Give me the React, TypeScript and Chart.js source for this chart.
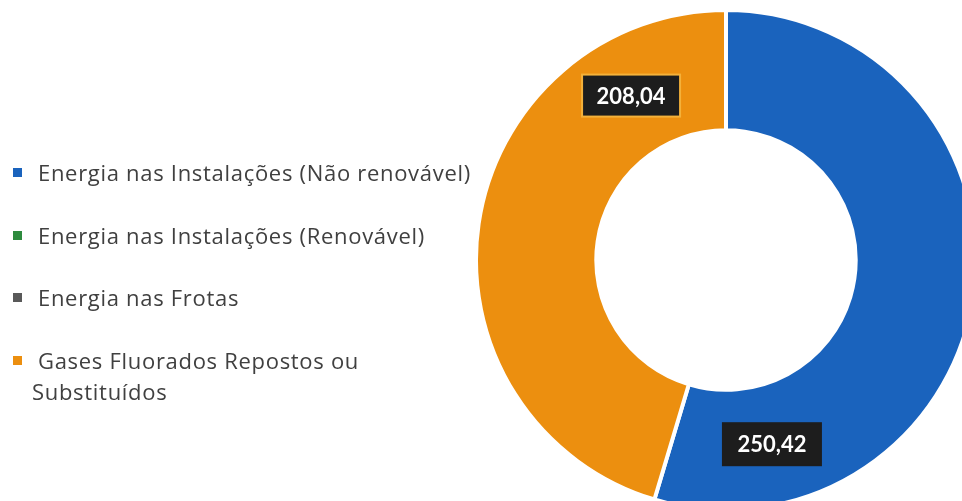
import React, { useEffect, useRef } from "react";
import { Chart, registerables } from "chart.js";

Chart.register(...registerables);

const categories: (string | string[])[] = [
  "Energia nas Instalações (Não renovável)",
  "Energia nas Instalações (Renovável)",
  "Energia nas Frotas",
  ["Gases Fluorados Repostos ou", "Substituídos"],
];
const values = [250.42, 0, 0, 208.04];
const colors = ["#1a63bd", "#2e8b3e", "#595959", "#ec8f0f"];
const valueLabels = ["250,42", "", "", "208,04"];

const labelPlugin = {
  id: "boxLabels",
  afterDatasetsDraw(chart: any, _args: any, opts: any) {
    const ctx = chart.ctx;
    const meta = chart.getDatasetMeta(0);
    meta.data.forEach((arc: any, i: number) => {
      const text = valueLabels[i];
      if (!text || !values[i]) return;
      const ang = ((opts.angles[i] ?? 0) * Math.PI) / 180;
      const r = (arc.innerRadius + arc.outerRadius) / 2;
      const x = arc.x + r * Math.sin(ang);
      const y = arc.y - r * Math.cos(ang);
      ctx.save();
      ctx.font = "bold 22px Lato";
      const w = opts.boxWidth;
      const h = 42;
      ctx.fillStyle = "#1d1d1d";
      ctx.fillRect(x - w / 2, y - h / 2, w, h);
      ctx.lineWidth = 2;
      ctx.strokeStyle = opts.borders[i];
      ctx.strokeRect(x - w / 2, y - h / 2, w, h);
      ctx.fillStyle = "#ffffff";
      ctx.textAlign = "center";
      ctx.textBaseline = "middle";
      ctx.fillText(text, x, y + 1);
      ctx.restore();
    });
  },
};

export default function App() {
  const ref = useRef<HTMLCanvasElement>(null);
  useEffect(() => {
    if (!ref.current) return;
    const chart = new Chart(ref.current, {
      type: "doughnut",
      data: {
        labels: categories as any,
        datasets: [
          {
            data: values,
            backgroundColor: colors,
            borderColor: "#ffffff",
            borderWidth: 4,
            hoverOffset: 0,
            clip: false as any,
          },
        ],
      },
      options: {
        responsive: false,
        animation: false,
        radius: 250,
        cutout: 124,
        layout: { padding: { left: 452, right: 0, top: 19, bottom: 0 } },
        plugins: {
          legend: { display: false },
          tooltip: { enabled: false },
          boxLabels: {
            angles: [166, 0, 0, 330],
            borders: ["#1d1d1d", "", "", "#f4b13a"],
            boxWidth: 98,
          },
        } as any,
      },
      plugins: [labelPlugin],
    });
    return () => chart.destroy();
  }, []);

  return (
    <div
      style={{
        position: "absolute",
        left: 0,
        top: 0,
        width: 962,
        height: 501,
        overflow: "hidden",
        background: "#fff",
      }}
    >
      <canvas
        ref={ref}
        width={1000}
        height={501}
        style={{ position: "absolute", left: 0, top: 0, width: 1000, height: 501 }}
      />
      <div
        style={{
          position: "absolute",
          left: 0,
          top: 157,
          display: "flex",
          flexDirection: "column",
          gap: 31.5,
          fontFamily: "'Open Sans', sans-serif",
          fontSize: 22,
          letterSpacing: 0.7,
          lineHeight: "31px",
          color: "#404040",
        }}
      >
        {categories.map((c, i) => {
          const lines = Array.isArray(c) ? c : [c];
          return (
            <div key={i} style={{ paddingLeft: 32, whiteSpace: "nowrap" }}>
              {lines.map((ln, j) => (
                <div key={j} style={{ position: "relative" }}>
                  {j === 0 ? (
                    <>
                      <span
                        style={{
                          position: "absolute",
                          left: -19,
                          top: 11,
                          width: 9,
                          height: 9,
                          background: colors[i],
                        }}
                      />
                      <span style={{ paddingLeft: 6 }}>{ln}</span>
                    </>
                  ) : (
                    <span>{ln}</span>
                  )}
                </div>
              ))}
            </div>
          );
        })}
      </div>
    </div>
  );
}
